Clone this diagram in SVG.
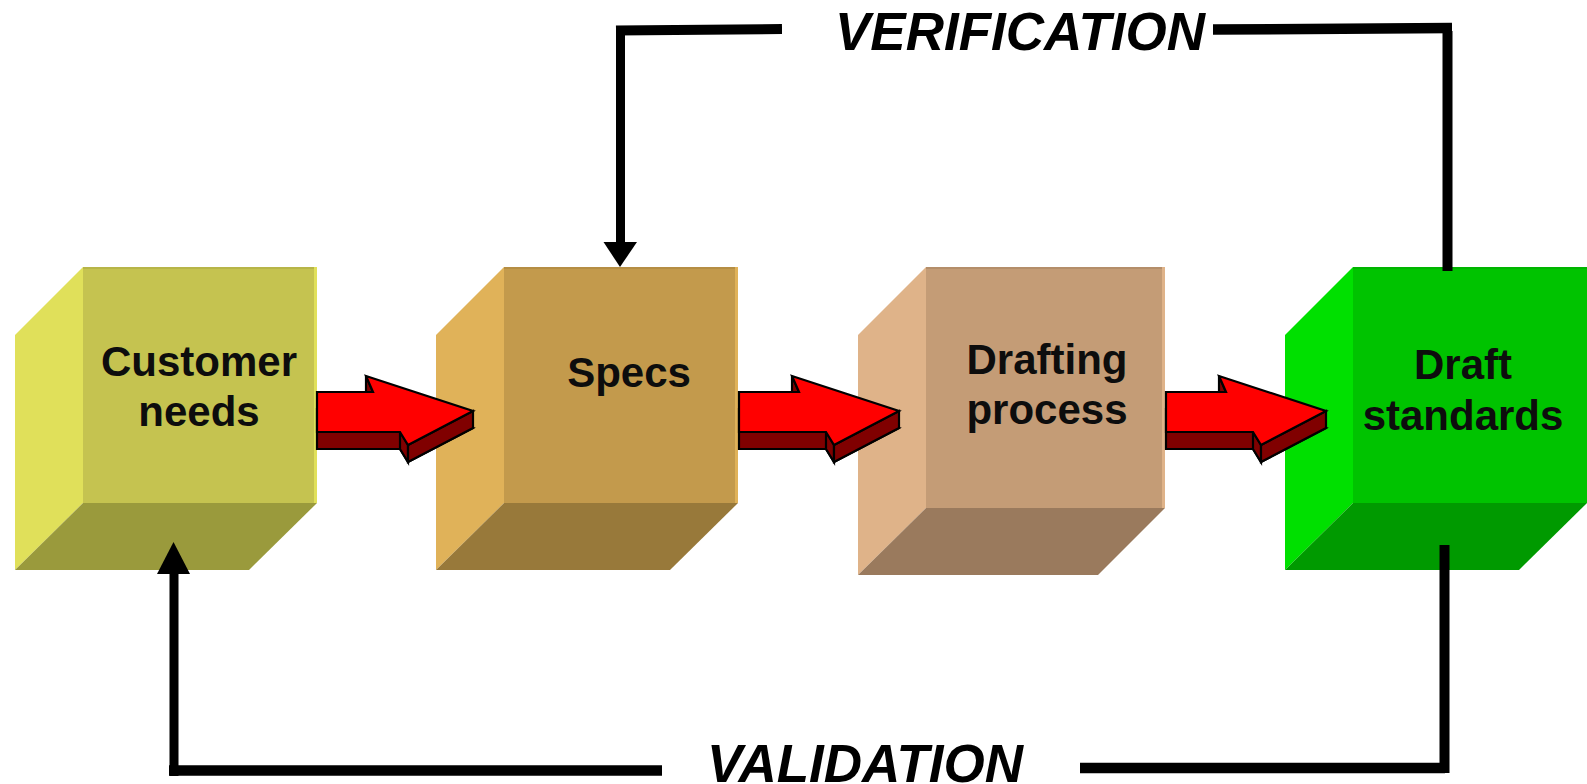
<svg xmlns="http://www.w3.org/2000/svg" width="1587" height="784" viewBox="0 0 1587 784">
<style>
.lbl{font-family:"Liberation Sans",Arial,sans-serif;font-weight:bold;font-size:42px;fill:#0d0d0d;text-anchor:middle}
.big{font-family:"Liberation Sans",Arial,sans-serif;font-weight:bold;font-style:italic;font-size:53px;fill:#000;text-anchor:middle}
.top{fill:#ff0000;stroke:#000;stroke-width:2.2;stroke-linejoin:miter}
.side{fill:#800000;stroke:#000;stroke-width:2.2;stroke-linejoin:miter}
.ln{fill:none;stroke:#000;stroke-linecap:butt}
</style>
<rect width="1587" height="784" fill="#fff"/>

<g id="node-customer-needs">
  <polygon points="83,267 15,335 15,570 83,503" fill="#e0e05a"/>
  <rect x="83" y="267" width="234" height="236" fill="#c5c350"/>
  <rect x="83" y="267" width="234" height="2" fill="#b7b548"/>
  <rect x="314" y="267" width="3" height="236" fill="#e0e05a"/>
  <polygon points="83,503 317,503 249,570 15,570" fill="#9a9a3c"/>
  <text class="lbl" x="199" y="376">Customer</text>
  <text class="lbl" x="199" y="426">needs</text>
</g>

<g id="node-specs">
  <polygon points="504,267 436,335 436,570 504,503" fill="#e0b259"/>
  <rect x="504" y="267" width="234" height="236" fill="#c39a4c"/>
  <rect x="504" y="267" width="234" height="2" fill="#b58e44"/>
  <rect x="735" y="267" width="3" height="236" fill="#e0b259"/>
  <polygon points="504,503 738,503 670,570 436,570" fill="#98793a"/>
  <text class="lbl" x="629" y="387">Specs</text>
</g>

<g id="node-drafting-process">
  <polygon points="926,267 858,335 858,575 926,508" fill="#dfb389"/>
  <rect x="926" y="267" width="239" height="241" fill="#c49c76"/>
  <rect x="926" y="267" width="239" height="2" fill="#b48e6a"/>
  <rect x="1162" y="267" width="3" height="241" fill="#dfb389"/>
  <polygon points="926,508 1165,508 1098,575 858,575" fill="#9a7a5d"/>
  <text class="lbl" x="1047" y="374">Drafting</text>
  <text class="lbl" x="1047" y="424">process</text>
</g>

<g id="node-draft-standards">
  <polygon points="1353,267 1285,335 1285,570 1353,503" fill="#00e000"/>
  <rect x="1353" y="267" width="234" height="236" fill="#00c300"/>
  <rect x="1353" y="267" width="234" height="2" fill="#00b400"/>
  <polygon points="1353,503 1587,503 1519,570 1285,570" fill="#009a00"/>
  <text class="lbl" x="1463" y="379">Draft</text>
  <text class="lbl" x="1463" y="430">standards</text>
</g>

<g id="flow-arrows">
  <g id="arrow-1">
    <polygon class="side" points="317,409 373,409 366,393 473,428 408,462 400,449 317,449"/>
    <polygon class="side" points="373,392 366,376 366,393 373,409"/>
    <polygon class="side" points="400,432 408,445 408,462 400,449"/>
    <polygon class="side" points="408,445 473,411 473,428 408,462"/>
    <polygon class="top" points="317,392 373,392 366,376 473,411 408,445 400,432 317,432"/>
  </g>
  <g id="arrow-2">
    <polygon class="side" points="739,409 799,409 792,393 899,428 834,462 826,449 739,449"/>
    <polygon class="side" points="799,392 792,376 792,393 799,409"/>
    <polygon class="side" points="826,432 834,445 834,462 826,449"/>
    <polygon class="side" points="834,445 899,411 899,428 834,462"/>
    <polygon class="top" points="739,392 799,392 792,376 899,411 834,445 826,432 739,432"/>
  </g>
  <g id="arrow-3">
    <polygon class="side" points="1166,409 1226,409 1219,393 1326,428 1261,462 1253,449 1166,449"/>
    <polygon class="side" points="1226,392 1219,376 1219,393 1226,409"/>
    <polygon class="side" points="1253,432 1261,445 1261,462 1253,449"/>
    <polygon class="side" points="1261,445 1326,411 1326,428 1261,462"/>
    <polygon class="top" points="1166,392 1226,392 1219,376 1326,411 1261,445 1253,432 1166,432"/>
  </g>
</g>

<g id="connectors">
  <line class="ln" x1="782" y1="29" x2="616" y2="30.5" stroke-width="10"/>
  <line class="ln" x1="620.5" y1="26" x2="620.5" y2="246" stroke-width="9"/>
  <polygon points="603.5,242 637,242 620,267" fill="#000"/>
  <line class="ln" x1="1213" y1="29.5" x2="1452" y2="28" stroke-width="10.5"/>
  <line class="ln" x1="1447.5" y1="31" x2="1447.5" y2="271" stroke-width="10"/>
  <line class="ln" x1="1444.5" y1="545" x2="1444.5" y2="773" stroke-width="10"/>
  <line class="ln" x1="1445" y1="768" x2="1080" y2="768" stroke-width="10.5"/>
  <line class="ln" x1="662" y1="770.5" x2="169" y2="770.5" stroke-width="10.5"/>
  <line class="ln" x1="174" y1="776" x2="174" y2="570" stroke-width="9"/>
  <polygon points="157,574 190,574 173.5,542" fill="#000"/>
</g>

<g id="labels">
  <text class="big" x="1020" y="50">VERIFICATION</text>
  <text class="big" x="865" y="782">VALIDATION</text>
</g>
</svg>
